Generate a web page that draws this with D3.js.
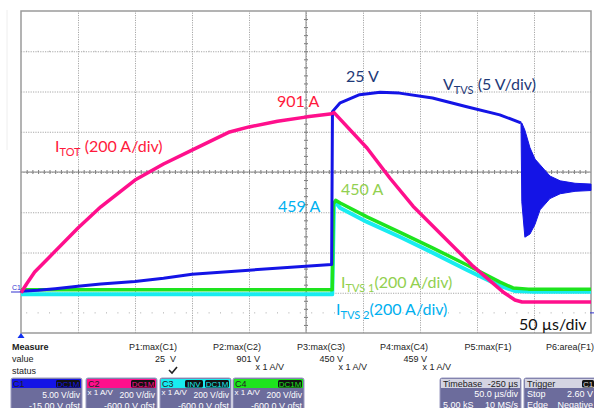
<!DOCTYPE html>
<html><head><meta charset="utf-8">
<script src="https://cdn.jsdelivr.net/npm/d3@7"></script>
<style>
html,body{margin:0;padding:0;background:#fff;}
svg{display:block;}
.lbl{font-family:Lato,"Open Sans",sans-serif;font-size:16px;}
.scope{font-family:"Liberation Sans",Arial,sans-serif;font-size:9px;}
</style></head>
<body>
<script>
// ---------- DATA ----------
// time in µs (50 µs/div, 10 div)
const itotTime = [0,5,12,25,50,70,100,125,150,183,200,225,251,271,274.6,303.5,323.7,343.9,370.2,396.5,422.8,433.3,439.5,500];
const itotAmps = [0,45,103,178,322,427,560,640,709,799,824,852,874,888,895,719,569,430,281,132,4,-36,-46,-46];

const vtvsTime = [0,15,30,50,70,100,125,150,200,240,272.5,273.2,280,297,315,332,361,391,420,438.5];
const vtvsVolts = [0.2,0.3,0.5,0.8,1.1,1.4,1.8,2.3,2.8,3.2,3.5,22.5,23.6,24.6,24.9,24.8,24.2,23.1,22.1,21.1];
// ringing envelope after turn-off
const ringTime = [438.6,439.3,442,446.5,450.9,455.3,464,473,486,500];
const ringHigh = [21.1,21.1,20.2,18.0,16.6,15.9,14.5,13.9,13.6,13.5];
const ringLow  = [21.1,11.3,6.9,7.3,8.5,10.3,11.7,12.3,12.6,12.7];

const itvs1Time = [0,273,274,276,280,303.5,332.5,361.4,391.2,420.2,431.6,445,500];
const itvs1Amps = [15,15,440,459,446,377,300,222,138,53,24,18,18];
const itvs2Time = [0,273,274.5,276,280,303.5,332.5,361.4,391.2,420.2,433,450,500];
const itvs2Amps = [-8,-8,430,450,421,352,277,198,113,34,9,5,5];

const measureHeads = ["P1:max(C1)","P2:max(C2)","P3:max(C3)","P4:max(C4)","P5:max(F1)","P6:area(F1)"];
const measureVals = ["25  V","901 V","450 V","459 V","",""];
const measureUnits = ["","x 1 A/V","x 1 A/V","x 1 A/V","",""];
const chNames = ["C1","C2","C3","C4"];
const chScale = ["5.00 V/div","200 V/div","200 V/div","200 V/div"];
const chOffset = ["-15.00 V ofst","-600.0 V ofst","-600.0 V ofst","-600.0 V ofst"];
const chProbe = ["","x 1 A/V","x 1 A/V","x 1 A/V"];
const chTags = [["DC1M"],["DC1M"],["INV","DC1M"],["DC1M"]];

// ---------- LAYOUT ----------
const W=594,H=408, L=21,R=591,T=11,B=333;
const col = {c1:"#1414e6", c2:"#ff0f8c", c3:"#18ecf0", c4:"#1ee41e"};
const svg = d3.select("body").append("svg").attr("width",W).attr("height",H);

const x = d3.scaleLinear().domain([0,500]).range([L,R]);
const yI = d3.scaleLinear().domain([-200,1400]).range([B,T]);
const yV = d3.scaleLinear().domain([-5,35]).range([B,T]);

// faint line at far left
svg.append("line").attr("x1",7).attr("x2",7).attr("y1",10).attr("y2",150).attr("stroke","#eee");

// grid
const g = svg.append("g");
const gx = g.append("g").attr("transform",`translate(0,${B})`)
  .call(d3.axisBottom(x).tickValues(d3.range(50,500,50)).tickSize(-(B-T)).tickFormat(""));
const gy = g.append("g").attr("transform",`translate(${L},0)`)
  .call(d3.axisLeft(yV).tickValues(d3.range(0,35,5)).tickSize(-(R-L)).tickFormat(""));
[gx,gy].forEach(a=>{a.select(".domain").remove();
  a.selectAll("line").attr("stroke","#a8a8a8").attr("stroke-dasharray","1.2,1.2");});
// dotted marker rows
const dotT = d3.range(5,500,10).filter(t=>t%50!==0);
[30,-2.5].forEach(v=>{
  g.selectAll(null).data(dotT).enter().append("rect")
   .attr("x",d=>x(d)-0.5).attr("y",yV(v)-0.5).attr("width",1).attr("height",1).attr("fill","#aaa");
});
// center minor ticks
const cx = g.append("g").attr("transform",`translate(0,${yV(15)+2})`)
  .call(d3.axisBottom(x).tickValues(d3.range(5,500,5)).tickSize(-4).tickFormat(""));
const cy = g.append("g").attr("transform",`translate(${x(250)-2},0)`)
  .call(d3.axisLeft(yV).tickValues(d3.range(-4,35,1)).tickSize(-4).tickFormat(""));
[cx,cy].forEach(a=>{a.select(".domain").remove(); a.selectAll("line").attr("stroke","#777");});
g.append("line").attr("x1",L).attr("x2",R).attr("y1",yV(15)).attr("y2",yV(15)).attr("stroke","#8a8a8a");
g.append("line").attr("x1",x(250)).attr("x2",x(250)).attr("y1",T).attr("y2",B).attr("stroke","#8a8a8a");
g.append("rect").attr("x",L).attr("y",T).attr("width",R-L).attr("height",B-T)
  .attr("fill","none").attr("stroke","#9a9a9a").attr("stroke-width",1.5);

// traces
const lineI = d3.line().x(d=>x(d[0])).y(d=>yI(d[1]));
const lineV = d3.line().x(d=>x(d[0])).y(d=>yV(d[1]));
const zip=(a,b)=>a.map((t,i)=>[t,b[i]]);
function trace(path,color,w){
  svg.append("path").attr("d",path).attr("fill","none").attr("stroke",color)
    .attr("stroke-width",w).attr("stroke-linejoin","round");
}
trace(lineI(zip(itvs2Time,itvs2Amps)),col.c3,4);
trace(lineI(zip(itvs1Time,itvs1Amps)),col.c4,3.5);
trace(lineV(zip(vtvsTime,vtvsVolts)),col.c1,3);
svg.append("line").attr("x1",x(272.9)).attr("x2",x(272.9)).attr("y1",yV(3.5)).attr("y2",yV(22.5))
  .attr("stroke",col.c1).attr("stroke-width",1.2);
const ringArea = d3.area().x((d,i)=>x(ringTime[i])).y0((d,i)=>yV(ringLow[i])).y1((d,i)=>yV(ringHigh[i]));
svg.append("path").attr("d",ringArea(ringTime)).attr("fill",col.c1).attr("stroke",col.c1).attr("stroke-width",1);
trace(lineI(zip(itotTime,itotAmps)),col.c2,3.5);

// annotations
function label(xp,yp,color,parts){
  const t = svg.append("text").attr("class","lbl").attr("x",xp).attr("y",yp).attr("fill",color);
  parts.forEach(p=>{
    if(typeof p==="string") t.append("tspan").text(p);
    else { t.append("tspan").attr("font-size",11).attr("dy",4).text(p.sub);
           t.append("tspan").attr("dy",-4).text(p.after||""); }
  });
}
label(55,152,"#ff1a3c",["I",{sub:"TOT",after:" (200 A/div)"}]);
label(277,107,"#ff1a3c",["901 A"]);
label(346,82,"#1f3a78",["25 V"]);
label(443,90,"#1f3a78",["V",{sub:"TVS",after:" (5 V/div)"}]);
label(341,195,"#92d050",["450 A"]);
label(278,212,"#00b0f0",["459 A"]);
label(341,288,"#92d050",["I",{sub:"TVS 1",after:"(200 A/div)"}]);
label(336,315,"#00b0f0",["I",{sub:"TVS 2",after:"(200 A/div)"}]);
label(519,330,"#111",["50 µs/div"]);

// markers
svg.append("text").attr("x",12).attr("y",290).attr("font-size",7).attr("font-family","Liberation Sans")
  .attr("fill","#3030d0").text("C1");
svg.append("line").attr("x1",11).attr("x2",21).attr("y1",292).attr("y2",292).attr("stroke","#3030d0");
svg.append("path").attr("d",`M${L},333 L${L-3.5},338 L${L+3.5},338 Z`).attr("fill","#1030f0");
svg.append("line").attr("x1",590).attr("x2",594).attr("y1",yV(-2.5)).attr("y2",yV(-2.5)).attr("stroke","#3030d0");

// ---------- scope measurement panel ----------
const p = svg.append("g").attr("class","scope").attr("fill","#222");
p.append("text").attr("x",12).attr("y",350).attr("font-weight","bold").text("Measure");
p.append("text").attr("x",12).attr("y",362).text("value");
p.append("text").attr("x",12).attr("y",374).text("status");
const headX = [153,237,321,404,488,570];
measureHeads.forEach((h,i)=>{
  p.append("text").attr("x",headX[i]).attr("y",350).attr("text-anchor","middle").text(h);
});
const valX = [176,260,343,427];
measureVals.forEach((v,i)=>{ if(v) p.append("text").attr("x",valX[i]).attr("y",362).attr("text-anchor","end").attr("xml:space","preserve").text(v);});
measureUnits.forEach((v,i)=>{ if(v) p.append("text").attr("x",valX[i]+24).attr("y",370).attr("text-anchor","end").text(v);});
p.append("path").attr("d","M169,370 L172,373 L177,367").attr("fill","none").attr("stroke","#222").attr("stroke-width",1.6);

const boxBody="#6c6c9c";
const chX=[11,86,160,233], chCol=[col.c1,col.c2,col.c3,col.c4], bw=71;
chNames.forEach((n,i)=>{
  const bx=chX[i];
  p.append("rect").attr("x",bx).attr("y",378).attr("width",bw).attr("height",34).attr("rx",2).attr("fill",boxBody).attr("stroke","#9a9ac0");
  p.append("rect").attr("x",bx+1).attr("y",379).attr("width",bw-2).attr("height",9).attr("fill",chCol[i]);
  p.append("text").attr("x",bx+2).attr("y",387).attr("fill","#222").text(n);
  let tx=bx+bw-2;
  chTags[i].slice().reverse().forEach(tag=>{
    const tw = tag.length*6;
    p.append("rect").attr("x",tx-tw).attr("y",380).attr("width",tw).attr("height",7.5).attr("rx",1.5).attr("fill","#111");
    p.append("text").attr("x",tx-tw/2).attr("y",386.5).attr("text-anchor","middle").attr("font-size",8).attr("fill",chCol[i]).text(tag);
    tx-=tw+2;
  });
  if(chProbe[i]) p.append("text").attr("x",bx+1.5).attr("y",394.5).attr("font-size",8).attr("fill","#fff").text(chProbe[i]);
  p.append("text").attr("x",bx+bw-2).attr("y",398).attr("text-anchor","end").attr("font-size",8.5).attr("fill","#fff").text(chScale[i]);
  p.append("text").attr("x",bx+bw-2).attr("y",409).attr("text-anchor","end").attr("fill","#fff").text(chOffset[i]);
});
// timebase & trigger
function infoBox(bx,w,title,titleR,rows,tagR){
  p.append("rect").attr("x",bx).attr("y",378).attr("width",w).attr("height",34).attr("rx",2).attr("fill",boxBody).attr("stroke","#9a9ac0");
  p.append("rect").attr("x",bx+1).attr("y",379).attr("width",w-2).attr("height",9).attr("fill","#d4d4e2");
  p.append("text").attr("x",bx+3).attr("y",387).attr("fill","#222").text(title);
  if(titleR) p.append("text").attr("x",bx+w-3).attr("y",387).attr("text-anchor","end").attr("fill","#222").text(titleR);
  if(tagR){ p.append("rect").attr("x",bx+w-14).attr("y",380).attr("width",12).attr("height",7.5).attr("rx",1.5).attr("fill","#111");
    p.append("text").attr("x",bx+w-8).attr("y",386.5).attr("text-anchor","middle").attr("font-size",8).attr("fill","#ddd").text(tagR);}
  rows.forEach((r,j)=>{
    if(r[0]) p.append("text").attr("x",bx+3).attr("y",397+j*11).attr("fill","#fff").text(r[0]);
    p.append("text").attr("x",bx+w-3).attr("y",397+j*11).attr("text-anchor","end").attr("fill","#fff").text(r[1]);
  });
}
infoBox(440,81,"Timebase","-250 µs",[["","50.0 µs/div"],["5.00 kS","10 MS/s"]]);
infoBox(524,72,"Trigger","",[["Stop","2.60 V"],["Edge","Negative"]],"C1");
</script>
</body></html>
